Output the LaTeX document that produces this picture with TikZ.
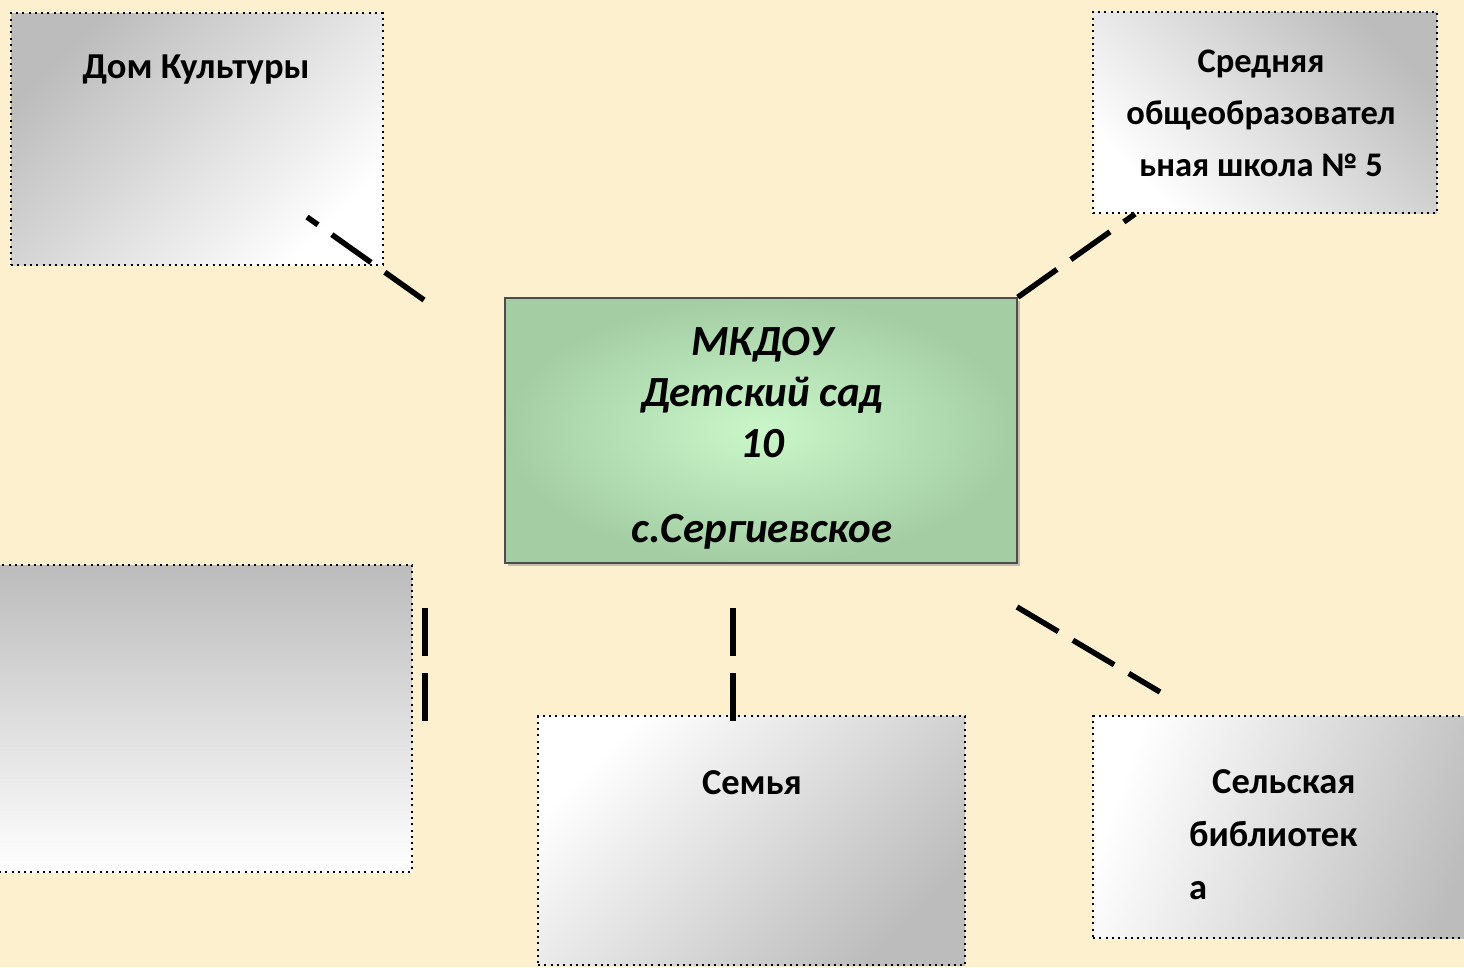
\documentclass[tikz,border=0pt]{standalone}
\usepackage{fontspec}
\setmainfont{Carlito}
\usetikzlibrary{shadows}

\definecolor{parchment}{RGB}{252,240,207}
\definecolor{greenedge}{RGB}{164,205,164}
\definecolor{greenmid}{RGB}{202,247,202}
\definecolor{boxgray}{RGB}{188,188,188}

\tikzset{
  partner/.style={rectangle, draw=black, line width=2pt, dash pattern=on 2pt off 4.3pt, inner sep=0pt},
  kindergarten/.style={rectangle, draw=black!70, line width=1.6pt, inner color=greenmid, outer color=greenedge,
    drop shadow={shadow xshift=2.5pt, shadow yshift=-2.5pt, fill=black!45}, inner sep=0pt},
  boxtext/.style={font=\bfseries\fontsize{36.5}{52}\selectfont, align=center, inner sep=0pt},
  link/.style={line width=5.5pt, dash pattern=on 48pt off 17pt}
}

\begin{document}
\begin{tikzpicture}[x=1pt,y=-1pt]
\useasboundingbox (0,0) rectangle (1464,967);
\clip (0,0) rectangle (1464,967);
\fill[parchment] (0,0) rectangle (1464,967);

\node[partner, minimum width=372pt, minimum height=252pt, top color=boxgray, bottom color=white, shading angle=45] (dk) at (197,139) {};
\node[partner, minimum width=344pt, minimum height=201pt, top color=boxgray, bottom color=white, shading angle=-45] (school) at (1265,112.5) {};
\node[partner, minimum width=432pt, minimum height=307pt, top color=boxgray, bottom color=white] (blank) at (196,718.5) {};
\node[partner, minimum width=427pt, minimum height=249pt, top color=white, bottom color=boxgray, shading angle=45] (family) at (751.5,840.5) {};
\node[partner, minimum width=397pt, minimum height=222pt, top color=white, bottom color=boxgray, shading angle=70] (library) at (1291.5,827) {};
\node[kindergarten, minimum width=512pt, minimum height=265pt] (mkdou) at (761,430.5) {};

\node[boxtext, anchor=base] (dktext) at (196,78) {Дом Культуры};
\node[boxtext, font=\bfseries\fontsize{34.5}{52}\selectfont, anchor=base] (schooltext) at (1261,176) {Средняя\\общеобразовател\\ьная школа № 5};
\node[boxtext, font=\bfseries\itshape\fontsize{43}{51}\selectfont, anchor=base] (mkdoutext) at (762,542) {МКДОУ\\Детский сад\\10\\[34pt]с.Сергиевское};
\node[boxtext, anchor=base] (familytext) at (752,794) {Семья};
\node[boxtext, align=left, anchor=base west] (librarytext) at (1189,899) {\hspace*{23pt}Сельская\\[1pt]библиотек\\[1pt]а};

\coordinate (ul1) at (424,300);
\coordinate (ul2) at (307,217);
\coordinate (ur2) at (1135,214);
\coordinate (vl1) at (425,608);
\coordinate (vl2) at (425,721);
\coordinate (vm1) at (733,608);
\coordinate (vm2) at (733,721);
\coordinate (lr1) at (1017,607);
\coordinate (lr2) at (1160,692);

\foreach \a/\b in {ul1/ul2, mkdou.north east/ur2, vl1/vl2, vm1/vm2, lr1/lr2}
{
\draw[link] (\a) -- (\b);
}
\end{tikzpicture}
\end{document}
